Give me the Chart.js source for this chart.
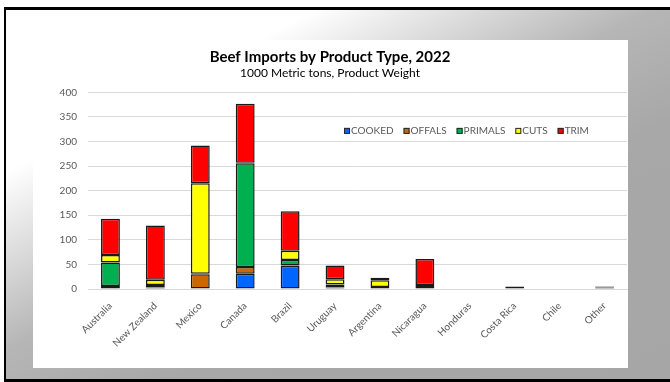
<!DOCTYPE html>
<html>
<head>
<meta charset="utf-8">
<script src="https://cdn.jsdelivr.net/npm/chart.js@4/dist/chart.umd.min.js"></script>
<style>
  html, body { margin: 0; padding: 0; background: #fff; }
  body { width: 670px; height: 382px; position: relative; overflow: hidden; }
  .frame {
    position: absolute; left: 4px; top: 7px; width: 700px; height: 369px;
    border-top: 3px solid #000; border-left: 2px solid #000; border-bottom: 3px solid #000;
    background: linear-gradient(to bottom right, #ffffff 0%, #ffffff 22%, #b6b6b6 46%, #a8a8a8 62%, #a6a6a6 100%);
  }
  .card {
    position: absolute; left: 33px; top: 40px; width: 595px; height: 328px; background: #fff;
  }
</style>
</head>
<body>
<div class="frame"></div>
<div class="card"><canvas id="importsChart"></canvas></div>
<script>
// Beef imports by country, stacked by product type (1000 metric tons)
const countries = ['Australia', 'New Zealand', 'Mexico', 'Canada', 'Brazil', 'Uruguay',
                   'Argentina', 'Nicaragua', 'Honduras', 'Costa Rica', 'Chile', 'Other'];
const cooked  = [2, 3, 0, 31, 47, 2, 0, 0, 0, 0, 0, 1];
const offals  = [4, 1, 30, 14, 1, 1, 1, 2, 0, 1, 0, 1];
const primals = [48, 4, 1, 211, 11, 6, 3, 0, 0, 0, 0, 1];
const cuts    = [15, 11, 184, 1, 19, 11, 14, 6, 0, 0, 0, 1];
const trim    = [74, 110, 77, 120, 80, 28, 5, 53, 0, 4, 0, 1];
const yTicks  = [0, 50, 100, 150, 200, 250, 300, 350, 400];

const FONT = 'Lato, "Open Sans", sans-serif';
const GRAY = '#595959';

function series(label, data, color) {
    return {
        label: label,
        data: data,
        backgroundColor: color,
        borderColor: '#1a1a1a',
        borderWidth: 1.5,
        borderSkipped: false,
        inflateAmount: 0,
        categoryPercentage: 1,
        barPercentage: 0.42
    };
}

// legend sits inside the plot, up on the right
const insideLegend = {
    id: 'insideLegend',
    afterDraw(chart) {
        const { ctx, chartArea } = chart;
        let x = chartArea.left + 256;
        const y = chartArea.top + 38.5;
        ctx.save();
        ctx.font = '10px ' + FONT;
        ctx.textBaseline = 'middle';
        chart.data.datasets.forEach(ds => {
            ctx.fillStyle = ds.backgroundColor;
            ctx.fillRect(x, y - 3, 6, 6);
            ctx.strokeStyle = '#262626';
            ctx.lineWidth = 1;
            ctx.strokeRect(x + 0.5, y - 2.5, 5, 5);
            x += 7;
            ctx.fillStyle = GRAY;
            ctx.fillText(ds.label, x, y);
            x += ctx.measureText(ds.label).width + 10;
        });
        ctx.restore();
    }
};

new Chart(document.getElementById('importsChart'), {
    type: 'bar',
    data: {
        labels: countries,
        datasets: [
            series('COOKED', cooked, '#0066ff'),
            series('OFFALS', offals, '#cc6600'),
            series('PRIMALS', primals, '#00b050'),
            series('CUTS', cuts, '#ffff00'),
            series('TRIM', trim, '#ff0000')
        ]
    },
    options: {
        responsive: true,
        maintainAspectRatio: false,
        animation: false,
        layout: { padding: { left: 0, right: 1, top: 0, bottom: 0 } },
        plugins: {
            legend: { display: false },
            tooltip: { enabled: false },
            title: {
                display: true,
                text: 'Beef Imports by Product Type, 2022',
                color: '#000',
                font: { family: FONT, size: 15, weight: 'bold' },
                padding: { top: 8, bottom: 0 }
            },
            subtitle: {
                display: true,
                text: '1000 Metric tons, Product Weight',
                color: '#000',
                font: { family: FONT, size: 12 },
                padding: { top: 0, bottom: 12 }
            }
        },
        scales: {
            x: {
                stacked: true,
                grid: { display: false },
                border: { color: '#d9d9d9', width: 1 },
                ticks: {
                    color: GRAY,
                    font: { family: FONT, size: 10 },
                    maxRotation: 45,
                    minRotation: 45,
                    autoSkip: false
                },
                afterFit(scale) { scale.height = 79; }
            },
            y: {
                stacked: true,
                min: 0,
                max: 400,
                afterBuildTicks(scale) { scale.ticks = yTicks.map(v => ({ value: v })); },
                grid: { color: '#d9d9d9', lineWidth: 1, drawTicks: false },
                border: { display: false },
                ticks: {
                    color: GRAY,
                    font: { family: FONT, size: 10 },
                    padding: 11
                },
                afterFit(scale) { scale.width = 55; }
            }
        }
    },
    plugins: [insideLegend]
});
</script>
</body>
</html>
